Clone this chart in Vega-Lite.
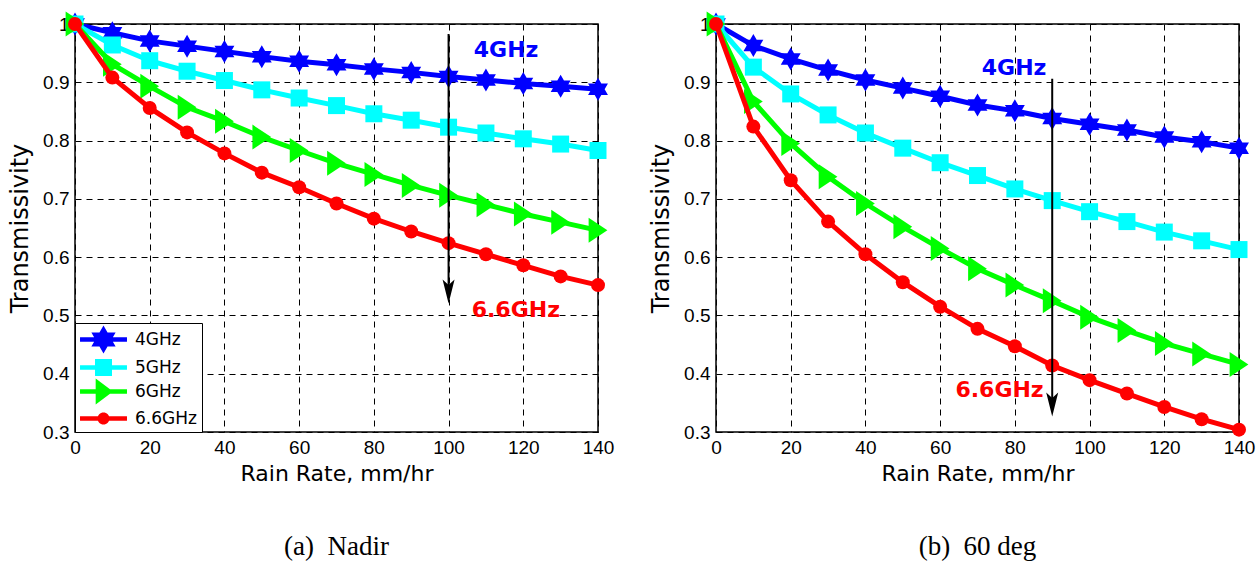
{
"$schema": "https://vega.github.io/schema/vega-lite/v6.json",
"background": "white",
"padding": {"left": 7, "top": 10, "right": 3, "bottom": 0},
"spacing": 33,
"datasets": {
"curves": [
{"panel":"a","freq":"4GHz","rain":0,"t":1.0},{"panel":"a","freq":"4GHz","rain":10,"t":0.985},{"panel":"a","freq":"4GHz","rain":20,"t":0.971},{"panel":"a","freq":"4GHz","rain":30,"t":0.962},{"panel":"a","freq":"4GHz","rain":40,"t":0.953},{"panel":"a","freq":"4GHz","rain":50,"t":0.944},{"panel":"a","freq":"4GHz","rain":60,"t":0.936},{"panel":"a","freq":"4GHz","rain":70,"t":0.930},{"panel":"a","freq":"4GHz","rain":80,"t":0.923},{"panel":"a","freq":"4GHz","rain":90,"t":0.917},{"panel":"a","freq":"4GHz","rain":100,"t":0.910},{"panel":"a","freq":"4GHz","rain":110,"t":0.904},{"panel":"a","freq":"4GHz","rain":120,"t":0.898},{"panel":"a","freq":"4GHz","rain":130,"t":0.893},{"panel":"a","freq":"4GHz","rain":140,"t":0.888},
{"panel":"a","freq":"5GHz","rain":0,"t":1.0},{"panel":"a","freq":"5GHz","rain":10,"t":0.964},{"panel":"a","freq":"5GHz","rain":20,"t":0.937},{"panel":"a","freq":"5GHz","rain":30,"t":0.919},{"panel":"a","freq":"5GHz","rain":40,"t":0.903},{"panel":"a","freq":"5GHz","rain":50,"t":0.887},{"panel":"a","freq":"5GHz","rain":60,"t":0.873},{"panel":"a","freq":"5GHz","rain":70,"t":0.860},{"panel":"a","freq":"5GHz","rain":80,"t":0.846},{"panel":"a","freq":"5GHz","rain":90,"t":0.835},{"panel":"a","freq":"5GHz","rain":100,"t":0.823},{"panel":"a","freq":"5GHz","rain":110,"t":0.813},{"panel":"a","freq":"5GHz","rain":120,"t":0.803},{"panel":"a","freq":"5GHz","rain":130,"t":0.794},{"panel":"a","freq":"5GHz","rain":140,"t":0.783},
{"panel":"a","freq":"6GHz","rain":0,"t":1.0},{"panel":"a","freq":"6GHz","rain":10,"t":0.931},{"panel":"a","freq":"6GHz","rain":20,"t":0.893},{"panel":"a","freq":"6GHz","rain":30,"t":0.857},{"panel":"a","freq":"6GHz","rain":40,"t":0.833},{"panel":"a","freq":"6GHz","rain":50,"t":0.806},{"panel":"a","freq":"6GHz","rain":60,"t":0.783},{"panel":"a","freq":"6GHz","rain":70,"t":0.761},{"panel":"a","freq":"6GHz","rain":80,"t":0.742},{"panel":"a","freq":"6GHz","rain":90,"t":0.723},{"panel":"a","freq":"6GHz","rain":100,"t":0.706},{"panel":"a","freq":"6GHz","rain":110,"t":0.690},{"panel":"a","freq":"6GHz","rain":120,"t":0.674},{"panel":"a","freq":"6GHz","rain":130,"t":0.660},{"panel":"a","freq":"6GHz","rain":140,"t":0.646},
{"panel":"a","freq":"6.6GHz","rain":0,"t":1.0},{"panel":"a","freq":"6.6GHz","rain":10,"t":0.908},{"panel":"a","freq":"6.6GHz","rain":20,"t":0.856},{"panel":"a","freq":"6.6GHz","rain":30,"t":0.814},{"panel":"a","freq":"6.6GHz","rain":40,"t":0.778},{"panel":"a","freq":"6.6GHz","rain":50,"t":0.745},{"panel":"a","freq":"6.6GHz","rain":60,"t":0.720},{"panel":"a","freq":"6.6GHz","rain":70,"t":0.692},{"panel":"a","freq":"6.6GHz","rain":80,"t":0.666},{"panel":"a","freq":"6.6GHz","rain":90,"t":0.644},{"panel":"a","freq":"6.6GHz","rain":100,"t":0.624},{"panel":"a","freq":"6.6GHz","rain":110,"t":0.605},{"panel":"a","freq":"6.6GHz","rain":120,"t":0.586},{"panel":"a","freq":"6.6GHz","rain":130,"t":0.567},{"panel":"a","freq":"6.6GHz","rain":140,"t":0.552},
{"panel":"b","freq":"4GHz","rain":0,"t":1.0},{"panel":"b","freq":"4GHz","rain":10,"t":0.963},{"panel":"b","freq":"4GHz","rain":20,"t":0.940},{"panel":"b","freq":"4GHz","rain":30,"t":0.921},{"panel":"b","freq":"4GHz","rain":40,"t":0.904},{"panel":"b","freq":"4GHz","rain":50,"t":0.890},{"panel":"b","freq":"4GHz","rain":60,"t":0.876},{"panel":"b","freq":"4GHz","rain":70,"t":0.861},{"panel":"b","freq":"4GHz","rain":80,"t":0.851},{"panel":"b","freq":"4GHz","rain":90,"t":0.838},{"panel":"b","freq":"4GHz","rain":100,"t":0.828},{"panel":"b","freq":"4GHz","rain":110,"t":0.818},{"panel":"b","freq":"4GHz","rain":120,"t":0.806},{"panel":"b","freq":"4GHz","rain":130,"t":0.798},{"panel":"b","freq":"4GHz","rain":140,"t":0.787},
{"panel":"b","freq":"5GHz","rain":0,"t":1.0},{"panel":"b","freq":"5GHz","rain":10,"t":0.926},{"panel":"b","freq":"5GHz","rain":20,"t":0.880},{"panel":"b","freq":"5GHz","rain":30,"t":0.844},{"panel":"b","freq":"5GHz","rain":40,"t":0.813},{"panel":"b","freq":"5GHz","rain":50,"t":0.787},{"panel":"b","freq":"5GHz","rain":60,"t":0.762},{"panel":"b","freq":"5GHz","rain":70,"t":0.740},{"panel":"b","freq":"5GHz","rain":80,"t":0.717},{"panel":"b","freq":"5GHz","rain":90,"t":0.697},{"panel":"b","freq":"5GHz","rain":100,"t":0.678},{"panel":"b","freq":"5GHz","rain":110,"t":0.661},{"panel":"b","freq":"5GHz","rain":120,"t":0.643},{"panel":"b","freq":"5GHz","rain":130,"t":0.628},{"panel":"b","freq":"5GHz","rain":140,"t":0.613},
{"panel":"b","freq":"6GHz","rain":0,"t":1.0},{"panel":"b","freq":"6GHz","rain":10,"t":0.867},{"panel":"b","freq":"6GHz","rain":20,"t":0.795},{"panel":"b","freq":"6GHz","rain":30,"t":0.738},{"panel":"b","freq":"6GHz","rain":40,"t":0.692},{"panel":"b","freq":"6GHz","rain":50,"t":0.652},{"panel":"b","freq":"6GHz","rain":60,"t":0.615},{"panel":"b","freq":"6GHz","rain":70,"t":0.580},{"panel":"b","freq":"6GHz","rain":80,"t":0.552},{"panel":"b","freq":"6GHz","rain":90,"t":0.525},{"panel":"b","freq":"6GHz","rain":100,"t":0.497},{"panel":"b","freq":"6GHz","rain":110,"t":0.474},{"panel":"b","freq":"6GHz","rain":120,"t":0.452},{"panel":"b","freq":"6GHz","rain":130,"t":0.434},{"panel":"b","freq":"6GHz","rain":140,"t":0.416},
{"panel":"b","freq":"6.6GHz","rain":0,"t":1.0},{"panel":"b","freq":"6.6GHz","rain":10,"t":0.824},{"panel":"b","freq":"6.6GHz","rain":20,"t":0.732},{"panel":"b","freq":"6.6GHz","rain":30,"t":0.661},{"panel":"b","freq":"6.6GHz","rain":40,"t":0.605},{"panel":"b","freq":"6.6GHz","rain":50,"t":0.557},{"panel":"b","freq":"6.6GHz","rain":60,"t":0.515},{"panel":"b","freq":"6.6GHz","rain":70,"t":0.477},{"panel":"b","freq":"6.6GHz","rain":80,"t":0.447},{"panel":"b","freq":"6.6GHz","rain":90,"t":0.414},{"panel":"b","freq":"6.6GHz","rain":100,"t":0.389},{"panel":"b","freq":"6.6GHz","rain":110,"t":0.366},{"panel":"b","freq":"6.6GHz","rain":120,"t":0.343},{"panel":"b","freq":"6.6GHz","rain":130,"t":0.322},{"panel":"b","freq":"6.6GHz","rain":140,"t":0.304}
],
"notes": [
{"panel":"a","kind":"arrow","rain":100,"t":0.983,"t2":0.541},
{"panel":"a","kind":"head","rain":100,"t":0.541},
{"panel":"a","kind":"label","rain":115.4,"t":0.955,"label":"4GHz","freq":"4GHz"},
{"panel":"a","kind":"label","rain":118.0,"t":0.509,"label":"6.6GHz","freq":"6.6GHz"},
{"panel":"b","kind":"arrow","rain":90,"t":0.906,"t2":0.347},
{"panel":"b","kind":"head","rain":90,"t":0.347},
{"panel":"b","kind":"label","rain":79.8,"t":0.9245,"label":"4GHz","freq":"4GHz"},
{"panel":"b","kind":"label","rain":75.9,"t":0.372,"label":"6.6GHz","freq":"6.6GHz"}
]
},
"config": {
"font": "Liberation Sans",
"view": {"stroke": "black", "strokeWidth": 1.5},
"axis": {"grid": true, "gridColor": "black", "gridDash": [6, 5], "gridWidth": 1, "gridOpacity": 1, "domain": false, "ticks": false, "labelFlush": false, "labelPadding": 6, "labelFont": "Liberation Sans", "labelFontSize": 19, "labelColor": "black", "titleFont": "DejaVu Sans", "titleFontSize": 22, "titleFontWeight": "normal", "titleColor": "black"},
"axisY": {"titleFontSize": 24, "titlePadding": 10},
"axisX": {"titlePadding": 6},
"legend": {"orient": "bottom-left", "offset": 0, "strokeColor": "black", "strokeWidth": 1, "fillColor": "white", "padding": 5, "labelFont": "DejaVu Sans", "labelFontSize": 17, "labelColor": "black", "symbolSize": 500, "symbolStrokeWidth": 0, "symbolOffset": 12, "labelOffset": 20, "rowPadding": 2, "cornerRadius": 0}
},
"hconcat": [
{
"width": 523, "height": 408,
"title": {"text": "(a)\u00a0 Nadir", "orient": "bottom", "offset": 50, "font": "Liberation Serif", "fontSize": 27, "fontWeight": "normal", "color": "black", "anchor": "middle"},
"encoding": {
"x": {"field": "rain", "type": "quantitative", "scale": {"domain": [0, 140], "nice": false, "zero": false}, "axis": {"title": "Rain Rate, mm/hr", "values": [0, 20, 40, 60, 80, 100, 120, 140]}},
"y": {"field": "t", "type": "quantitative", "scale": {"domain": [0.3, 1], "nice": false, "zero": false}, "axis": {"title": "Transmissivity", "values": [0.3, 0.4, 0.5, 0.6, 0.7, 0.8, 0.9, 1.0], "format": ".1~f"}}
},
"layer": [
{"data": {"name": "curves"}, "transform": [{"filter": {"field": "panel", "equal": "a"}}, {"filter": {"field": "freq", "equal": "4GHz"}}], "layer": [
{"mark": {"type": "line", "strokeWidth": 5, "color": "#0000ff"}, "encoding": {}},
{"mark": {"type": "point", "filled": true, "opacity": 1, "color": "#0000ff", "size": 529, "shape": "M0,-1L0.289,-0.5L0.866,-0.5L0.577,0L0.866,0.5L0.289,0.5L0,1L-0.289,0.5L-0.866,0.5L-0.577,0L-0.866,-0.5L-0.289,-0.5Z"}, "encoding": {}}
]},
{"data": {"name": "curves"}, "transform": [{"filter": {"field": "panel", "equal": "a"}}, {"filter": {"field": "freq", "equal": "5GHz"}}], "layer": [
{"mark": {"type": "line", "strokeWidth": 5, "color": "#00ffff"}, "encoding": {}},
{"mark": {"type": "point", "filled": true, "opacity": 1, "color": "#00ffff", "size": 289, "shape": "square"}, "encoding": {}}
]},
{"data": {"name": "curves"}, "transform": [{"filter": {"field": "panel", "equal": "a"}}, {"filter": {"field": "freq", "equal": "6GHz"}}], "layer": [
{"mark": {"type": "line", "strokeWidth": 5, "color": "#00ff00"}, "encoding": {}},
{"mark": {"type": "point", "filled": true, "opacity": 1, "color": "#00ff00", "size": 625, "shape": "M-0.75,-1L0.75,0L-0.75,1Z"}, "encoding": {}}
]},
{"data": {"name": "curves"}, "transform": [{"filter": {"field": "panel", "equal": "a"}}, {"filter": {"field": "freq", "equal": "6.6GHz"}}], "layer": [
{"mark": {"type": "line", "strokeWidth": 5, "color": "#ff0000"}, "encoding": {}},
{"mark": {"type": "point", "filled": true, "opacity": 1, "color": "#ff0000", "size": 196, "shape": "circle"}, "encoding": {}}
]},
{"data": {"name": "curves"}, "transform": [{"filter": {"field": "panel", "equal": "none"}}],
"mark": {"type": "point", "filled": true, "opacity": 1},
"encoding": {
"color": {"field": "freq", "type": "nominal", "scale": {"domain": ["4GHz", "5GHz", "6GHz", "6.6GHz"], "range": ["#0000ff", "#00ffff", "#00ff00", "#ff0000"]}, "legend": {"title": null}},
"shape": {"field": "freq", "type": "nominal", "scale": {"domain": ["4GHz", "5GHz", "6GHz", "6.6GHz"], "range": [
"M-2.1,-0.2H2.1V0.2H-2.1ZM0,-1.25L0.361,-0.625L1.083,-0.625L0.722,0L1.083,0.625L0.361,0.625L0,1.25L-0.361,0.625L-1.083,0.625L-0.722,0L-1.083,-0.625L-0.361,-0.625Z",
"M-2.1,-0.2H2.1V0.2H-2.1ZM-0.76,-0.76H0.76V0.76H-0.76Z",
"M-2.1,-0.2H2.1V0.2H-2.1ZM-0.7,-1.16L0.85,0L-0.7,1.16Z",
"M-2.1,-0.2H2.1V0.2H-2.1ZM-0.54,0A0.54,0.54 0 1,1 0.54,0A0.54,0.54 0 1,1 -0.54,0Z"
]}, "legend": {"title": null}}
}},
{"data": {"name": "notes"}, "transform": [{"filter": {"field": "panel", "equal": "a"}}], "layer": [
{"transform": [{"filter": {"field": "kind", "equal": "arrow"}}], "mark": {"type": "rule", "strokeWidth": 2, "color": "black"}, "encoding": {"y2": {"field": "t2"}}},
{"transform": [{"filter": {"field": "kind", "equal": "head"}}], "mark": {"type": "point", "filled": true, "opacity": 1, "color": "black", "size": 576, "shape": "M0,1L-0.5,-1L0,-0.55L0.5,-1Z"}, "encoding": {}},
{"transform": [{"filter": {"field": "kind", "equal": "label"}}], "mark": {"type": "text", "font": "DejaVu Sans", "fontSize": 22, "fontWeight": "bold"}, "encoding": {"text": {"field": "label"}, "color": {"field": "freq", "type": "nominal", "scale": {"domain": ["4GHz", "5GHz", "6GHz", "6.6GHz"], "range": ["#0000ff", "#00ffff", "#00ff00", "#ff0000"]}, "legend": null}}}
]}
]
},
{
"width": 523, "height": 408,
"title": {"text": "(b)\u00a0 60 deg", "orient": "bottom", "offset": 50, "font": "Liberation Serif", "fontSize": 27, "fontWeight": "normal", "color": "black", "anchor": "middle"},
"encoding": {
"x": {"field": "rain", "type": "quantitative", "scale": {"domain": [0, 140], "nice": false, "zero": false}, "axis": {"title": "Rain Rate, mm/hr", "values": [0, 20, 40, 60, 80, 100, 120, 140]}},
"y": {"field": "t", "type": "quantitative", "scale": {"domain": [0.3, 1], "nice": false, "zero": false}, "axis": {"title": "Transmissivity", "values": [0.3, 0.4, 0.5, 0.6, 0.7, 0.8, 0.9, 1.0], "format": ".1~f"}}
},
"layer": [
{"data": {"name": "curves"}, "transform": [{"filter": {"field": "panel", "equal": "b"}}, {"filter": {"field": "freq", "equal": "4GHz"}}], "layer": [
{"mark": {"type": "line", "strokeWidth": 5, "color": "#0000ff"}, "encoding": {}},
{"mark": {"type": "point", "filled": true, "opacity": 1, "color": "#0000ff", "size": 529, "shape": "M0,-1L0.289,-0.5L0.866,-0.5L0.577,0L0.866,0.5L0.289,0.5L0,1L-0.289,0.5L-0.866,0.5L-0.577,0L-0.866,-0.5L-0.289,-0.5Z"}, "encoding": {}}
]},
{"data": {"name": "curves"}, "transform": [{"filter": {"field": "panel", "equal": "b"}}, {"filter": {"field": "freq", "equal": "5GHz"}}], "layer": [
{"mark": {"type": "line", "strokeWidth": 5, "color": "#00ffff"}, "encoding": {}},
{"mark": {"type": "point", "filled": true, "opacity": 1, "color": "#00ffff", "size": 289, "shape": "square"}, "encoding": {}}
]},
{"data": {"name": "curves"}, "transform": [{"filter": {"field": "panel", "equal": "b"}}, {"filter": {"field": "freq", "equal": "6GHz"}}], "layer": [
{"mark": {"type": "line", "strokeWidth": 5, "color": "#00ff00"}, "encoding": {}},
{"mark": {"type": "point", "filled": true, "opacity": 1, "color": "#00ff00", "size": 625, "shape": "M-0.75,-1L0.75,0L-0.75,1Z"}, "encoding": {}}
]},
{"data": {"name": "curves"}, "transform": [{"filter": {"field": "panel", "equal": "b"}}, {"filter": {"field": "freq", "equal": "6.6GHz"}}], "layer": [
{"mark": {"type": "line", "strokeWidth": 5, "color": "#ff0000"}, "encoding": {}},
{"mark": {"type": "point", "filled": true, "opacity": 1, "color": "#ff0000", "size": 196, "shape": "circle"}, "encoding": {}}
]},
{"data": {"name": "curves"}, "transform": [{"filter": {"field": "panel", "equal": "none"}}],
"mark": {"type": "point", "filled": true, "opacity": 1},
"encoding": {
"color": {"field": "freq", "type": "nominal", "scale": {"domain": ["4GHz", "5GHz", "6GHz", "6.6GHz"], "range": ["#0000ff", "#00ffff", "#00ff00", "#ff0000"]}, "legend": {"title": null}},
"shape": {"field": "freq", "type": "nominal", "scale": {"domain": ["4GHz", "5GHz", "6GHz", "6.6GHz"], "range": [
"M-2.1,-0.2H2.1V0.2H-2.1ZM0,-1.25L0.361,-0.625L1.083,-0.625L0.722,0L1.083,0.625L0.361,0.625L0,1.25L-0.361,0.625L-1.083,0.625L-0.722,0L-1.083,-0.625L-0.361,-0.625Z",
"M-2.1,-0.2H2.1V0.2H-2.1ZM-0.76,-0.76H0.76V0.76H-0.76Z",
"M-2.1,-0.2H2.1V0.2H-2.1ZM-0.7,-1.16L0.85,0L-0.7,1.16Z",
"M-2.1,-0.2H2.1V0.2H-2.1ZM-0.54,0A0.54,0.54 0 1,1 0.54,0A0.54,0.54 0 1,1 -0.54,0Z"
]}, "legend": {"title": null}}
}},
{"data": {"name": "notes"}, "transform": [{"filter": {"field": "panel", "equal": "b"}}], "layer": [
{"transform": [{"filter": {"field": "kind", "equal": "arrow"}}], "mark": {"type": "rule", "strokeWidth": 2, "color": "black"}, "encoding": {"y2": {"field": "t2"}}},
{"transform": [{"filter": {"field": "kind", "equal": "head"}}], "mark": {"type": "point", "filled": true, "opacity": 1, "color": "black", "size": 576, "shape": "M0,1L-0.5,-1L0,-0.55L0.5,-1Z"}, "encoding": {}},
{"transform": [{"filter": {"field": "kind", "equal": "label"}}], "mark": {"type": "text", "font": "DejaVu Sans", "fontSize": 22, "fontWeight": "bold"}, "encoding": {"text": {"field": "label"}, "color": {"field": "freq", "type": "nominal", "scale": {"domain": ["4GHz", "5GHz", "6GHz", "6.6GHz"], "range": ["#0000ff", "#00ffff", "#00ff00", "#ff0000"]}, "legend": null}}}
]}
]
}
]
}
